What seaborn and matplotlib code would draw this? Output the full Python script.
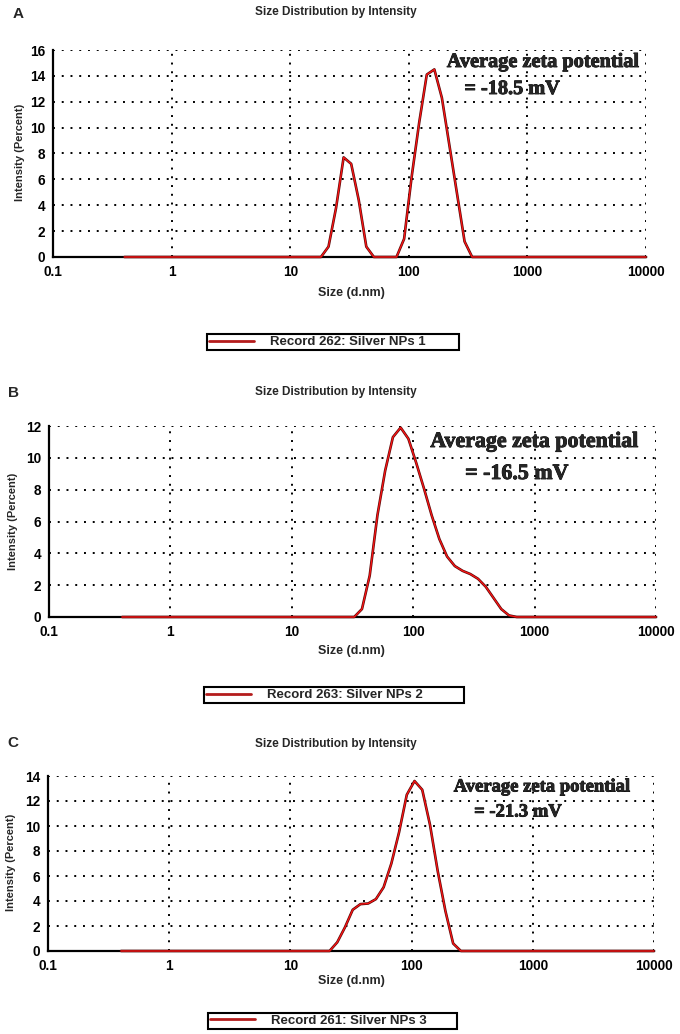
import matplotlib
matplotlib.use('Agg')
import matplotlib.pyplot as plt
import matplotlib.patheffects as pe
from matplotlib.lines import Line2D
from matplotlib.ticker import LogLocator, NullFormatter, MultipleLocator
import seaborn as sns

sns.set_style('white')
plt.rcParams['font.family'] = ['Liberation Sans', 'DejaVu Sans']

# size classes (d.nm) and intensity (%)
sizes_a = [0.4, 18.17, 21.04, 24.36, 28.21, 32.67, 37.84, 43.82, 50.75, 78.82, 91.28,
           105.7, 122.4, 141.8, 164.2, 190.1, 220.2, 255.0, 295.3, 342.0, 10000]
int_a = [0, 0, 0.8, 3.8, 7.7, 7.2, 4.4, 0.8, 0, 0, 1.4,
         6.2, 10.4, 14.1, 14.5, 12.3, 8.6, 4.9, 1.2, 0, 0]

sizes_b = [0.4, 32.67, 37.84, 43.82, 50.75, 58.77, 68.06, 78.82, 91.28, 105.7, 122.4, 141.8,
           164.2, 190.1, 220.2, 255.0, 295.3, 342.0, 396.1, 458.7, 531.2, 615.1, 712.4, 10000]
int_b = [0, 0, 0.5, 2.6, 6.4, 9.2, 11.3, 11.9, 11.2, 9.7, 8.1, 6.4,
         4.9, 3.8, 3.2, 2.9, 2.7, 2.4, 1.9, 1.2, 0.5, 0.1, 0, 0]

sizes_c = [0.4, 21.04, 24.36, 28.21, 32.67, 37.84, 43.82, 50.75, 58.77, 68.06, 78.82,
           91.28, 105.7, 122.4, 141.8, 164.2, 190.1, 220.2, 255.0, 10000]
int_c = [0, 0, 0.7, 1.9, 3.3, 3.75, 3.8, 4.15, 5.1, 7.0, 9.5,
         12.5, 13.6, 12.9, 10.1, 6.4, 3.2, 0.6, 0, 0]

letters = ['A', 'B', 'C']
records = ['Record 262: Silver NPs 1', 'Record 263: Silver NPs 2', 'Record 261: Silver NPs 3']
zeta = ['= -18.5 mV', '= -16.5 mV', '= -21.3 mV']
ymax = [16, 12, 14]
x_ticks = [0.1, 1, 10, 100, 1000, 10000]
x_labels = ['0.1', '1', '10', '100', '1000', '10000']

W, H = 680, 1034
def fx(x):
    return x / W
def fy(y):
    return 1 - y / H

# pixel layout of each panel: axes box, title row, labels, legend box, annotation
layout = [
    dict(ax=(53, 50, 646, 257), title=12, letter=(18, 14), xlab=293, ylab=(20, 152),
         leg=(207, 333, 459, 351), ann1=(543, 62, 14.6), ann2=(512, 89, 14.6)),
    dict(ax=(49, 426, 656, 617), title=392, letter=(13, 393), xlab=651, ylab=(13, 521),
         leg=(204, 687, 464, 703), ann1=(535, 442, 15.8), ann2=(517, 474, 15.8)),
    dict(ax=(48, 776, 654, 951), title=744, letter=(13, 743), xlab=981, ylab=(11, 862),
         leg=(208, 1013, 457, 1029), ann1=(542, 787, 13.4), ann2=(518, 812, 13.4)),
]

fig = plt.figure(figsize=(W / 100, H / 100), dpi=100)
serif_fx = [pe.withStroke(linewidth=0.6, foreground='black')]

for i, (sizes, ints) in enumerate([(sizes_a, int_a), (sizes_b, int_b), (sizes_c, int_c)]):
    L = layout[i]
    l, t, r, b = L['ax']
    ax = fig.add_axes([fx(l), fy(b), (r - l) / W, (b - t) / H])
    sns.lineplot(x=sizes, y=ints, ax=ax, color='#ff1414', lw=0.9, zorder=4, clip_on=False,
                 path_effects=[pe.Stroke(linewidth=1.9, foreground='#5a0a0a'), pe.Normal()])
    ax.set_xscale('log')
    ax.set_xlim(0.1, 10000)
    ax.set_ylim(0, ymax[i])
    ax.set_xticks(x_ticks, labels=x_labels)
    ax.xaxis.set_minor_locator(LogLocator(base=10, subs=range(2, 10), numticks=20))
    ax.xaxis.set_minor_formatter(NullFormatter())
    ax.set_yticks(range(0, ymax[i] + 1, 2))
    ax.yaxis.set_minor_locator(MultipleLocator(1))
    ax.tick_params(which='major', direction='inout', length=7, width=1.5, labelsize=9.8,
                   pad=2, colors='black')
    ax.tick_params(which='minor', direction='inout', length=5, width=1.2, colors='black')
    for lab in ax.get_xticklabels() + ax.get_yticklabels():
        lab.set_fontweight('bold')
    ax.grid(True, which='major', color='black', lw=1.4, ls=(0, (1, 3.5)))
    ax.grid(False, which='minor')
    for s in ['top', 'right']:
        ax.spines[s].set_visible(False)
    for s in ['left', 'bottom']:
        ax.spines[s].set_linewidth(1.6)
        ax.spines[s].set_color('black')
    ax.set_xlabel('')
    ax.set_ylabel('')
    if ax.get_legend():
        ax.get_legend().remove()

    fig.text(fx(336), fy(L['title']), 'Size Distribution by Intensity', ha='center', va='center',
             fontsize=8.5, fontweight='bold')
    fig.text(fx(L['letter'][0]), fy(L['letter'][1]), letters[i], ha='center', va='center',
             fontsize=11, fontweight='bold')
    fig.text(fx(351), fy(L['xlab']), 'Size (d.nm)', ha='center', va='center',
             fontsize=9, fontweight='bold')
    fig.text(fx(L['ylab'][0]), fy(L['ylab'][1]), 'Intensity (Percent)', ha='center', va='center',
             rotation=90, fontsize=8, fontweight='bold')

    x1, y1, s1 = L['ann1']
    x2, y2, s2 = L['ann2']
    fig.text(fx(x1), fy(y1), 'Average zeta potential', ha='center', va='center',
             fontsize=s1, fontweight='bold', family=['Liberation Serif', 'DejaVu Serif'],
             path_effects=serif_fx)
    fig.text(fx(x2), fy(y2), zeta[i], ha='center', va='center',
             fontsize=s2, fontweight='bold', family=['Liberation Serif', 'DejaVu Serif'],
             path_effects=serif_fx)

    gl, gt, gr, gb = L['leg']
    handle = Line2D([0], [0], color='#b41c1c', lw=2.0)
    leg = ax.legend([handle], [records[i]], loc='center',
                    bbox_to_anchor=(fx(gl), fy(gb), (gr - gl) / W, (gb - gt) / H),
                    bbox_transform=fig.transFigure, mode='expand', frameon=True,
                    fancybox=False, edgecolor='black', borderpad=0.15, handlelength=3.4,
                    handletextpad=1.2, borderaxespad=0,
                    prop=dict(weight='bold', size=9.5))
    leg.get_frame().set_linewidth(1.5)
    leg.get_frame().set_alpha(1)

fig.savefig('out.png', dpi=100)
